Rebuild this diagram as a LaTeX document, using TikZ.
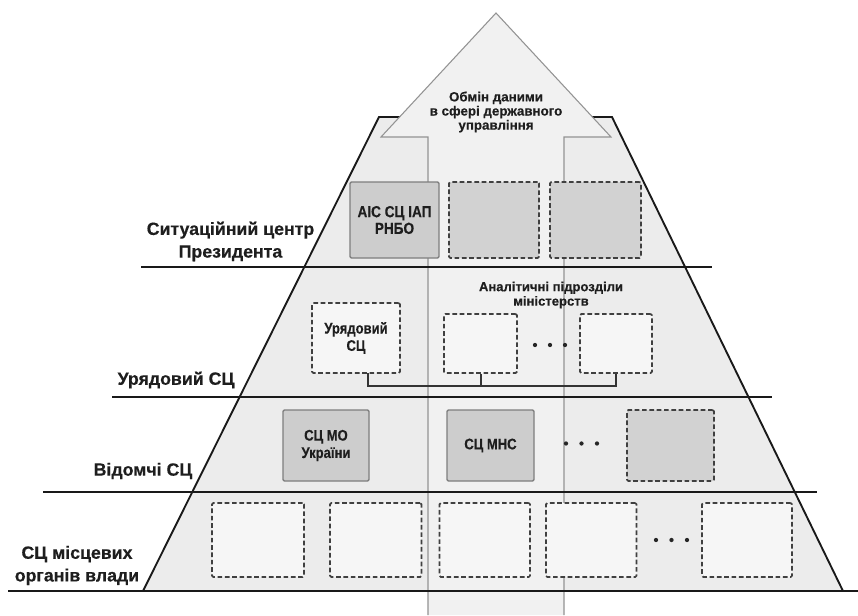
\documentclass[tikz,border=0pt]{standalone}
\usepackage{fontspec}
\setmainfont{Liberation Sans}[BoldFeatures={FakeBold=0.4}]
\newfontfamily\narrowfont{Liberation Sans}[FakeStretch=0.85, BoldFeatures={FakeBold=0.4}]
\definecolor{pyrfill}{HTML}{ECECEC}
\definecolor{arrfill}{HTML}{F1F1F1}
\definecolor{arrline}{HTML}{939393}
\definecolor{boxgray}{HTML}{CDCDCD}
\definecolor{boxgrayline}{HTML}{7E7E7E}
\definecolor{dashline}{HTML}{404040}
\definecolor{whitebox}{HTML}{F6F6F6}
\definecolor{txt}{HTML}{1E1E1E}
\tikzset{
  lvl/.style={line width=1.7pt, draw=black!90},
  edge/.style={line width=1.4pt, draw=black!90},
  shaft/.style={line width=0.8pt, draw=arrline},
  solidbox/.style={draw=boxgrayline, line width=1pt, fill=boxgray, rounded corners=1pt, inner sep=0pt, align=center, text=txt},
  dashbox/.style={draw=dashline, line width=1.25pt, dash pattern=on 3.5pt off 2pt, rounded corners=1pt, inner sep=0pt, align=center, text=txt},
  dashgray/.style={dashbox, fill=boxgray!90!white},
  dashwhite/.style={dashbox, fill=whitebox},
  lbl/.style={font=\bfseries\fontsize{13.3}{17}\selectfont, text=txt, align=center, inner sep=0pt},
  boxtxt/.style={font=\narrowfont\bfseries\fontsize{11.5}{13}\selectfont},
  bracket/.style={line width=1.3pt, draw=black!80},
  dot/.style={fill=black!85}
}
\begin{document}
\begin{tikzpicture}[x=0.75pt,y=-0.75pt]
\useasboundingbox (0,0) rectangle (858,615);
\fill[white] (0,0) rectangle (858,615);
% pyramid
\fill[pyrfill] (379,117) -- (612,117) -- (843,591) -- (143,591) -- cycle;
\draw[edge] (143,591) -- (379,117) -- (612,117) -- (843,591);
% arrow
\fill[arrfill] (428,615) -- (428,137) -- (381,137) -- (496,13) -- (611,137) -- (564,137) -- (564,615) -- cycle;
\draw[shaft] (428,615) -- (428,137) -- (381,137) -- (496,13) -- (611,137) -- (564,137) -- (564,615);
\node[font=\bfseries\fontsize{10}{10.6}\selectfont, text=txt, align=center, inner sep=0pt] (obmin) at (496,112) {Обмін даними\\в сфері державного\\управління};
% row 1
\node[solidbox, minimum width=66.75pt, minimum height=57pt, font=\narrowfont\bfseries\fontsize{12}{12.5}\selectfont] (ais) at (394.5,220) {АІС СЦ ІАП\\РНБО};
\node[dashgray, minimum width=67.5pt, minimum height=57pt] (t2) at (494,220) {};
\node[dashgray, minimum width=68.25pt, minimum height=57pt] (t3) at (595.5,220) {};
% row 2
\node[dashwhite, minimum width=66pt, minimum height=52.5pt, boxtxt] (ury) at (356,338) {Урядовий\\СЦ};
\node[dashwhite, minimum width=54.75pt, minimum height=44.25pt] (a1) at (480.5,343.5) {};
\node[dashwhite, minimum width=54pt, minimum height=44.25pt] (a2) at (616,343.5) {};
\node[font=\bfseries\fontsize{9.8}{10.8}\selectfont, text=txt, align=center, inner sep=0pt] (anal) at (551,295) {Аналітичні підрозділи\\міністерств};
\foreach \xx in {535,550,565} \fill[dot] (\xx,345) circle[radius=1.6pt];
% row 3
\node[solidbox, minimum width=64.5pt, minimum height=53.25pt, boxtxt] (mo) at (326,445.5) {СЦ МО\\України};
\node[solidbox, minimum width=65.25pt, minimum height=53.25pt, boxtxt] (mns) at (490.5,445.5) {СЦ МНС};
\node[dashgray, minimum width=65.25pt, minimum height=53.25pt] (g3) at (670.5,445.5) {};
\foreach \xx in {566,581.5,597} \fill[dot] (\xx,443.5) circle[radius=1.6pt];
% row 4
\node[dashwhite, minimum width=69pt, minimum height=55.5pt] (b1) at (258,540) {};
\node[dashwhite, minimum width=68.6pt, minimum height=55.5pt] (b2) at (375.75,540) {};
\node[dashwhite, minimum width=67.9pt, minimum height=55.5pt] (b3) at (484.75,540) {};
\node[dashwhite, minimum width=67.9pt, minimum height=55.5pt] (b4) at (591.25,540) {};
\node[dashwhite, minimum width=67.5pt, minimum height=55.5pt] (b5) at (747,540) {};
\foreach \xx in {656,671.5,687} \fill[dot] (\xx,540) circle[radius=1.6pt];
% level lines
\draw[lvl] (141,267) -- (712,267);
\draw[lvl] (112,397) -- (772,397);
\draw[lvl] (43,492) -- (817,492);
\draw[lvl] (8,591) -- (858,591);
% bracket
\coordinate (urydrop) at (367.7,373);
\coordinate (bus) at (481,386);
\draw[bracket] (urydrop) -- (urydrop |- bus) -| (a2.south);
\draw[bracket] (a1.south -| bus) -- (bus);
% labels
\node[lbl] (l1) at (230.5,241.5) {Ситуаційний центр\\Президента};
\node[lbl] (l2) at (176,380) {Урядовий СЦ};
\node[lbl] (l3) at (143,471) {Відомчі СЦ};
\node[lbl] (l4) at (77,565.5) {СЦ місцевих\\органів влади};
\end{tikzpicture}
\end{document}
